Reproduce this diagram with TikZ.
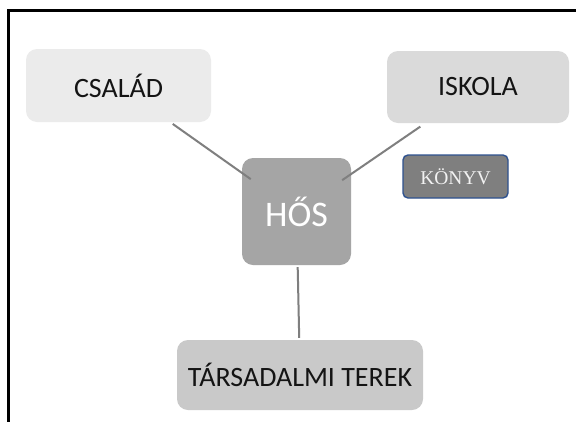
\documentclass[tikz,border=0pt]{standalone}
\usepackage{fontspec}
\setmainfont{Carlito}
\newfontfamily\bookfont{Liberation Serif}
\definecolor{boxA}{HTML}{EBEBEB}
\definecolor{boxB}{HTML}{DADADA}
\definecolor{boxC}{HTML}{A5A5A5}
\definecolor{boxD}{HTML}{C9C9C9}
\definecolor{bookfill}{HTML}{7F7F7F}
\definecolor{bookedge}{HTML}{2F528F}
\definecolor{linkgray}{HTML}{7F7F7F}
\definecolor{inktext}{HTML}{141414}
\tikzset{
  topic/.style={rounded corners=11pt, inner sep=0pt, text=inktext,
    font=\fontsize{28}{30}\selectfont},
  link/.style={draw=linkgray, line width=2pt},
}
\begin{document}
\begin{tikzpicture}[x=1pt, y=-1pt]
  \useasboundingbox[fill=white] (0,0) rectangle (576,421);
  % frame edges
  \draw[line width=2.2pt, line cap=rect] (8.5,421) -- (8.5,10.5) -- (576,10.5);

  \node[topic, fill=boxA, minimum width=185pt, minimum height=73pt] (csalad) at (118.5,85.5) {CSALÁD};
  \node[topic, fill=boxB, minimum width=182pt, minimum height=72pt] (iskola) at (478,87) {ISKOLA};
  \node[topic, fill=boxD, minimum width=246pt, minimum height=70pt] (tarsad) at (300,375) {TÁRSADALMI TEREK};
  \node[topic, fill=boxC, text=white, minimum width=109pt, minimum height=107pt,
        font=\fontsize{36}{38}\selectfont] (hos) at (296.5,211.5) {HŐS};
  \node[rounded corners=5pt, fill=bookfill, draw=bookedge, line width=1.4pt,
        minimum width=105pt, minimum height=43pt, inner sep=0pt, text=white!95!black,
        font=\bookfont\fontsize{19.5}{21}\selectfont] (konyv) at (455.5,176.5) {KÖNYV};

  % connectors
  \draw[link, shorten <=3pt, shorten >=-11pt] (csalad) -- (hos);
  \draw[link, shorten <=6pt, shorten >=-11pt] (iskola) -- (hos);
  \draw[link, shorten <=2pt, shorten >=2pt] (hos) -- (tarsad);
\end{tikzpicture}
\end{document}
